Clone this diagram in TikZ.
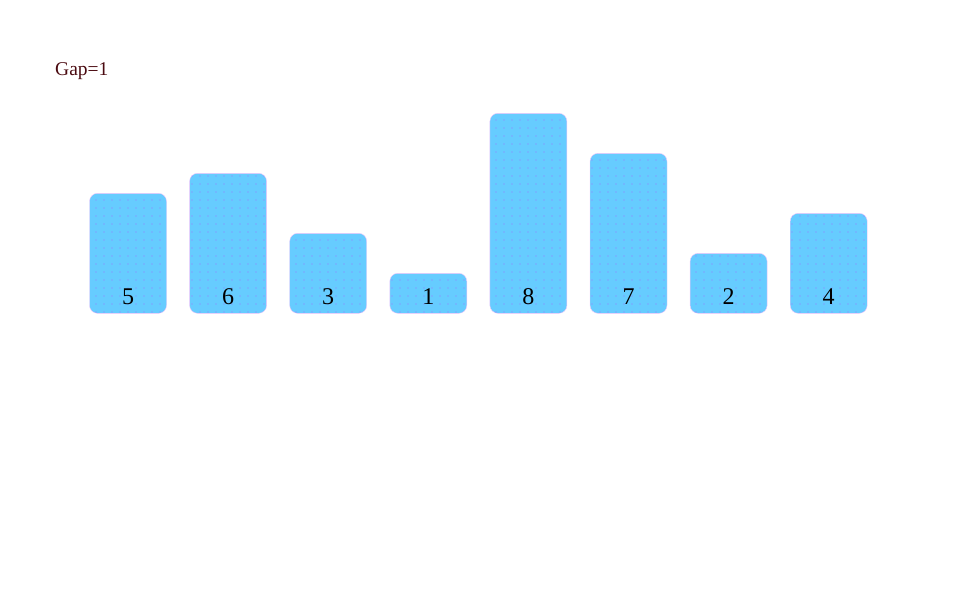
\documentclass[tikz,border=0pt]{standalone}
\usepackage{fontspec}
\setmainfont{Liberation Serif}
\usetikzlibrary{patterns.meta}
\definecolor{barfill}{HTML}{66CCFF}
\definecolor{barline}{HTML}{F4C4FA}
\definecolor{dotcol}{HTML}{9977FF}
\definecolor{gapcol}{HTML}{4A0A10}
\tikzset{
  bar/.style={draw=barline, line width=0.4pt, fill=barfill, rounded corners=8pt,
    minimum width=77pt, inner sep=0pt, anchor=south,
    postaction={pattern={Dots[distance=8pt,radius=0.55pt]}, pattern color=dotcol}},
  val/.style={anchor=base, font=\fontsize{24}{24}\selectfont, text=black, inner sep=0pt},
}
\begin{document}
\begin{tikzpicture}[x=1pt,y=-1pt]
\useasboundingbox (0,0) rectangle (960,600);
\node[anchor=base west, inner sep=0pt, text=gapcol, font=\fontsize{19.5}{19.5}\selectfont] (gap) at (55,75) {Gap=1};
\foreach \v/\h [count=\i from 0] in {5/120,6/140,3/80,1/40,8/200,7/160,2/60,4/100}{
  \node[bar, minimum height=\h pt] (bar\i) at ({128+100.1*\i},313.5) {};
  \node[val] (v\i) at ({128+100.1*\i},304) {\v};
}
\end{tikzpicture}
\end{document}
